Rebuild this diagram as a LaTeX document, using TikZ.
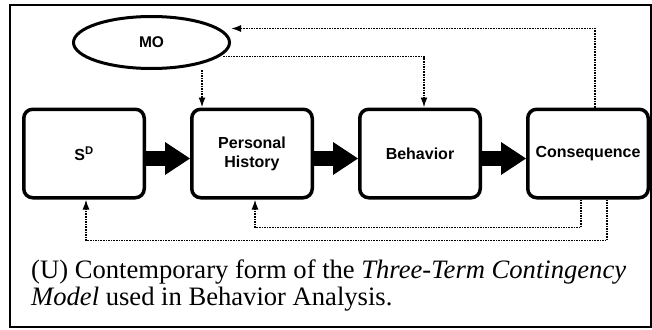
\documentclass[tikz,border=0pt]{standalone}
\usepackage{fontspec}
\setmainfont{Liberation Serif}
\newfontfamily\boxfont{Liberation Sans}
\usetikzlibrary{shapes, arrows.meta}
\tikzstyle{cell} = [rectangle, draw, line width=3.5pt, rounded corners=9pt, fill=white, minimum width=120.5pt, minimum height=88.5pt, text centered, align=center, font=\boxfont\bfseries\fontsize{16}{19}\selectfont]
\tikzstyle{oval} = [ellipse, draw, line width=3pt, minimum width=156pt, minimum height=52pt, font=\boxfont\bfseries\fontsize{15.5}{18}\selectfont]
\tikzstyle{line} = [draw, densely dotted, line width=1.6pt, -{Latex[length=10pt,width=7pt]}]
\tikzstyle{bigline} = [draw, line width=15pt, -{Triangle[length=25pt,width=33pt,line width=0pt]}]

\begin{document}
\begin{tikzpicture}[x=1pt, y=1pt, node distance=168pt]
    \useasboundingbox (0,0) rectangle (652,-329);
    \draw[line width=2pt] (10,-5) rectangle (651,-327);

    \node[cell] (sd) at (84,-153.5) {S\textsuperscript{D}};
    \node[cell, right of=sd] (ph) {Personal\\History};
    \node[cell, right of=ph] (beh) {Behavior};
    \node[cell, right of=beh] (cons) {Consequence};
    \node[oval] (mo) at (151.5,-42.5) {MO};
    \coordinate (mo2ph) at ([xshift=-50pt]ph.north);

    % main chain
    \path[bigline] ([yshift=-5pt]sd.east) -- ([yshift=-5pt]ph.west);
    \path[bigline] ([yshift=-5pt]ph.east) -- ([yshift=-5pt]beh.west);
    \path[bigline] ([yshift=-5pt]beh.east) -- ([yshift=-5pt]cons.west);

    % MO links
    \path[line] (mo2ph |- mo.south) -- (mo2ph);
    \path[line] ([xshift=-8pt,yshift=-14pt]mo.east) -| ([xshift=4pt]beh.north);
    \path[line] ([xshift=7pt]cons.north) |- ([yshift=14pt]mo.east);

    % feedback
    \path[line] ([xshift=-7pt]cons.south) -- ++(0,-28) -| ([xshift=3pt]ph.south);
    \path[line] ([xshift=19pt]cons.south) -- ++(0,-41) -| ([xshift=2pt]sd.south);

    \node[anchor=north west, inner sep=0pt, align=left, font=\fontsize{26.6}{27}\selectfont] (caption) at (31,-260)
        {(U) Contemporary form of the \textit{Three-Term Contingency}\\\textit{Model} used in Behavior Analysis.};
\end{tikzpicture}
\end{document}
